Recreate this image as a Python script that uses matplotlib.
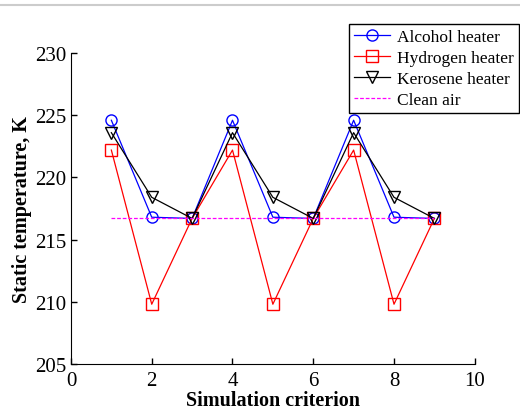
import matplotlib
matplotlib.use("Agg")
import matplotlib.pyplot as plt
from matplotlib.lines import Line2D

plt.rcParams['font.family'] = ['Liberation Serif', 'DejaVu Serif']

# data
criterion = [1, 2, 3, 4, 5, 6, 7, 8, 9]
alcohol = [224.6, 216.8, 216.7, 224.6, 216.8, 216.7, 224.6, 216.8, 216.7]
hydrogen = [222.2, 209.8, 216.7, 222.2, 209.8, 216.7, 222.2, 209.8, 216.7]
kerosene = [223.6, 218.4, 216.7, 223.6, 218.4, 216.7, 223.6, 218.4, 216.7]
clean_air = [216.7] * 9

fig = plt.figure(figsize=(5.2, 4.1), dpi=100)
ax = fig.add_axes([0.1365, 0.110, 0.7765, 0.758])

ax.plot(criterion, alcohol, 'b-o', mfc='none', ms=8, lw=0.9, label='Alcohol heater')
ax.plot(criterion, hydrogen, 'r-s', mfc='none', ms=8, lw=0.9, label='Hydrogen heater')
ax.plot(criterion, kerosene, 'k-v', mfc='none', ms=9, lw=0.9, label='Kerosene heater')
ax.plot(criterion, clean_air, color='magenta', ls='--', lw=0.9, dashes=(3, 1.5), label='Clean air')

ax.set_xlim(0, 10)
ax.set_ylim(205, 230)
ax.set_xticks(range(0, 11, 2))
ax.set_yticks(range(205, 231, 5))
ax.tick_params(direction='in', labelsize=15, length=4, width=1)
ax.tick_params(axis='x', pad=5)
ax.spines['top'].set_visible(False)
ax.spines['right'].set_visible(False)
ax.set_xlabel('Simulation criterion', fontsize=14.5, fontweight='bold', labelpad=0)
ax.set_ylabel('Static temperature, K', fontsize=14.5, fontweight='bold', labelpad=2)

leg = ax.legend(loc='upper right', bbox_to_anchor=(1.11, 1.095), borderaxespad=0,
                fontsize=12.5, frameon=True, fancybox=False, edgecolor='black',
                framealpha=1, borderpad=0.3, labelspacing=0.28,
                handlelength=2.1, handletextpad=0.4)
leg.get_frame().set_linewidth(1.0)

# gray rule along the top of the image
fig.add_artist(Line2D([0, 1], [0.985, 0.985], transform=fig.transFigure, color='#cccccc', lw=1.5))

fig.savefig('out.png', dpi=100)
